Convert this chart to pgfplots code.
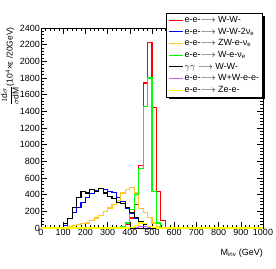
\documentclass[border=0pt]{standalone}
\usepackage{fontspec}
\setmainfont{Liberation Sans}
\usepackage{pgfplots}
\pgfplotsset{compat=1.18}
\definecolor{cgold}{RGB}{255,200,40}
\definecolor{cpurple}{RGB}{200,90,255}
\definecolor{cyellow}{RGB}{255,255,0}
\definecolor{cgreen}{RGB}{0,255,0}
\definecolor{cred}{RGB}{255,0,0}
\definecolor{cblue}{RGB}{0,0,255}
\pgfplotsset{
  hist/.style={const plot, line width=1.1pt,
    legend image code/.code={\draw[##1, sharp plot, line width=1pt] (0pt,0pt) -- (14pt,0pt);}},
}
\begin{document}
\begin{tikzpicture}[x=1pt,y=1pt]
\useasboundingbox (0,0) rectangle (276,268);
\begin{axis}[
  at={(41pt,40pt)}, anchor=south west,
  scale only axis, width=222pt, height=200pt,
  xmin=0, xmax=1000, ymin=0, ymax=2400,
  xtick distance=100, ytick distance=200,
  minor x tick num=4, minor y tick num=4,
  tick align=inside,
  major tick length=6pt, minor tick length=3pt,
  tick style={black, line width=0.5pt},
  axis line style={line width=0.6pt},
  font=\fontsize{9}{10}\selectfont,
  /pgf/number format/assume math mode=true,
  scaled ticks=false, /pgf/number format/1000 sep={},
  xticklabel style={inner sep=1pt},
  yticklabel style={inner sep=1pt},
  clip=false,
  legend cell align=left,
  legend style={at={(rel axis cs:0.563,1.075)}, anchor=north west,
    draw=black, line width=0.5pt, fill=white,
    font=\fontsize{9}{10}\selectfont,
    inner xsep=2pt, inner ysep=1.5pt, row sep=1pt,
    nodes={inner sep=1.5pt}, name=leg},
]
% e-e- -> W-W-
\addplot[hist, cred] coordinates {
(0,0) (360,10) (380,40) (400,120) (420,280) (440,750) (460,1740) (480,2230) (500,1450) (520,440) (540,90) (560,0) (1000,0)};
\addlegendentry{e-e-$\longrightarrow$ W-W-}
% e-e- -> W-W-2nu
\addplot[hist, cblue] coordinates {
(0,0) (100,30) (120,110) (140,190) (160,250) (180,310) (200,370) (220,410) (240,450) (260,475) (280,465) (300,440) (320,430) (340,370) (360,320) (380,240) (400,170) (420,110) (440,70) (460,40) (480,20) (500,5) (520,0) (1000,0)};
\addlegendentry{e-e-$\longrightarrow$ W-W-2ν\textsubscript{e}}
% ZW e nu
\addplot[hist, cgold] coordinates {
(0,0) (100,5) (120,15) (140,30) (160,40) (180,55) (200,60) (220,90) (240,120) (260,155) (280,200) (300,240) (320,280) (340,330) (360,420) (380,460) (400,490) (420,420) (440,230) (460,190) (480,130) (500,60) (520,15) (540,0) (1000,0)};
\addlegendentry{e-e-$\longrightarrow$ ZW-e-ν\textsubscript{e}}
% W e nu
\addplot[hist, cgreen] coordinates {
(0,0) (340,10) (360,20) (380,60) (400,220) (420,400) (440,710) (460,1460) (480,1800) (500,440) (520,60) (540,0) (1000,0)};
\addlegendentry{e-e-$\longrightarrow$ W-e-ν\textsubscript{e}}
% gamma gamma -> WW
\addplot[hist, black] coordinates {
(0,0) (80,10) (100,50) (120,110) (140,250) (160,370) (180,440) (200,420) (220,460) (240,440) (260,475) (280,420) (300,380) (320,350) (340,310) (360,290) (380,250) (400,190) (420,130) (440,80) (460,40) (480,15) (500,5) (520,0) (1000,0)};
\addlegendentry{$\gamma\gamma\longrightarrow$ W-W-}
% W+W-e-e-
\addplot[hist, cpurple] coordinates {
(0,0) (400,5) (420,10) (440,20) (460,20) (480,10) (500,5) (520,0) (1000,0)};
\addlegendentry{e-e-$\longrightarrow$ W+W-e-e-}
% Ze-e-
\addplot[hist, cyellow] coordinates {
(0,0) (400,10) (420,30) (440,60) (460,50) (480,20) (500,5) (520,0) (1000,0)};
\addlegendentry{e-e-$\longrightarrow$ Ze-e-}
\node[rotate=90, anchor=east, inner sep=0pt, font=\fontsize{8.5}{10}\selectfont] at (rel axis cs:-0.14,1.005)
  {$\displaystyle\frac{1\mathrm{d}\sigma}{\sigma\mathrm{dM}}$(10\textsuperscript{4}×ε /20GeV)};
\node[anchor=east, inner sep=0pt, font=\fontsize{9}{10}\selectfont] at (rel axis cs:1,-0.125)
  {M\textsubscript{inv} (GeV)};
\end{axis}
\draw[line width=2pt] ([xshift=1pt,yshift=-3pt]leg.north east) -- ([xshift=1pt,yshift=-1pt]leg.south east) -- ([xshift=3pt,yshift=-1pt]leg.south west);
\end{tikzpicture}
\end{document}
